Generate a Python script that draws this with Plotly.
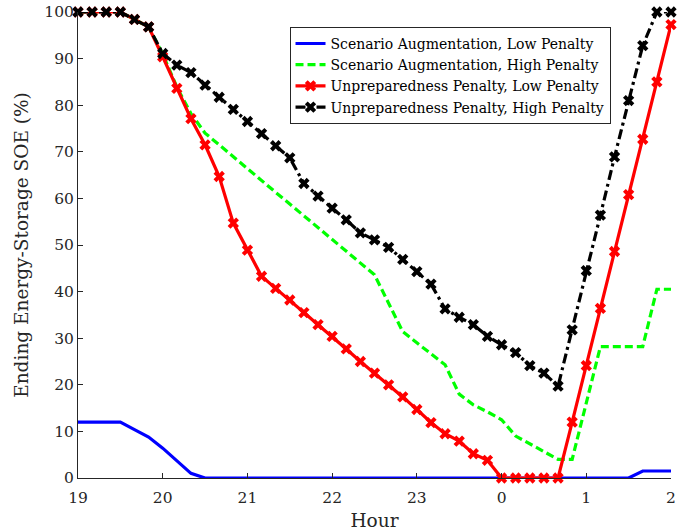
import plotly.graph_objects as go

# time axis: 10-minute steps from 19:00 to 02:00 (hours after 19:00)
steps = list(range(43))
hours = [s / 6 for s in steps]
tick_vals = [0, 1, 2, 3, 4, 5, 6, 7]
tick_text = ["19", "20", "21", "22", "23", "0", "1", "2"]
y_ticks = [0, 10, 20, 30, 40, 50, 60, 70, 80, 90, 100]

names = [
    "Scenario Augmentation, Low Penalty",
    "Scenario Augmentation, High Penalty",
    "Unpreparedness Penalty, Low Penalty",
    "Unpreparedness Penalty, High Penalty",
]

sa_low = [12, 12, 12, 12, 10.4, 8.8, 6.4, 3.7, 1.0, 0, 0, 0, 0, 0, 0, 0, 0, 0, 0, 0, 0, 0,
          0, 0, 0, 0, 0, 0, 0, 0, 0, 0, 0, 0, 0, 0, 0, 0, 0, 0, 1.5, 1.5, 1.5]
sa_high = [100, 100, 100, 100, 98.4, 96.8, 91.0, 83.9, 78.2, 74.0, 71.5, 68.9, 66.4, 63.9,
           61.3, 58.8, 56.3, 53.7, 51.2, 48.7, 46.1, 43.6, 37.5, 31.4, 29.0, 26.7, 24.3,
           18.0, 15.7, 14.2, 12.5, 9.0, 7.3, 5.6, 4.0, 4.0, 16.0, 28.2, 28.2, 28.2, 28.2,
           40.5, 40.5]
up_low = [100, 100, 100, 100, 98.4, 96.8, 90.4, 83.6, 77.1, 71.5, 64.7, 54.7, 48.9, 43.3,
          40.7, 38.2, 35.5, 32.9, 30.4, 27.7, 25.0, 22.5, 20.0, 17.4, 14.7, 11.9, 9.5, 7.9,
          5.2, 3.8, 0, 0, 0, 0, 0, 12.0, 24.1, 36.4, 48.6, 60.8, 72.7, 85.0, 97.3]
up_high = [100, 100, 100, 100, 98.4, 96.8, 91.1, 88.6, 87.0, 84.3, 81.7, 79.1, 76.5, 73.9,
           71.3, 68.7, 63.2, 60.5, 57.9, 55.4, 52.6, 51.1, 49.5, 46.9, 44.3, 41.6, 36.3,
           34.5, 32.9, 30.4, 28.6, 26.9, 24.1, 22.5, 19.7, 31.8, 44.5, 56.4, 68.9, 81.0,
           92.8, 100, 100]

FONT = "DejaVu Serif"
AX = "#262626"

fig = go.Figure()
fig.add_trace(go.Scatter(x=hours, y=sa_low, name=names[0], mode="lines",
                         line=dict(color="#0000ff", width=3.2), cliponaxis=False))
fig.add_trace(go.Scatter(x=hours, y=sa_high, name=names[1], mode="lines",
                         line=dict(color="#00ff00", width=3.2, dash="8px,4px"),
                         cliponaxis=False))
fig.add_trace(go.Scatter(x=hours, y=up_low, name=names[2], mode="lines+markers",
                         line=dict(color="#ff0000", width=3.2),
                         marker=dict(symbol="x", size=10, color="#ff0000"),
                         cliponaxis=False))
fig.add_trace(go.Scatter(x=hours, y=up_high, name=names[3], mode="lines+markers",
                         line=dict(color="#000000", width=3.2, dash="10px,4px,3px,4px"),
                         marker=dict(symbol="x", size=10, color="#000000"),
                         cliponaxis=False))

fig.update_layout(
    width=694, height=531,
    margin=dict(l=78, r=23, t=12, b=53),
    plot_bgcolor="white", paper_bgcolor="white",
    font=dict(family=FONT, size=14, color=AX),
    showlegend=True,
    legend=dict(x=0.898, y=0.968, xanchor="right", yanchor="top",
                bgcolor="white", bordercolor=AX, borderwidth=1,
                font=dict(family=FONT, size=14, color="#000000"),
                tracegroupgap=0, itemwidth=30),
    xaxis=dict(range=[0, 7], tickvals=tick_vals, ticktext=tick_text,
               automargin=False, ticklabelstandoff=5,
               showgrid=False, zeroline=False, showline=True, linecolor=AX,
               linewidth=1, ticks="inside", ticklen=5, tickcolor=AX,
               tickfont=dict(family=FONT, size=15.5, color=AX),
               title=dict(text="Hour", font=dict(family=FONT, size=18.5, color=AX),
                          standoff=8)),
    yaxis=dict(range=[0, 100], tickvals=y_ticks, automargin=False,
               showgrid=False, zeroline=False,
               showline=True, linecolor=AX, linewidth=1, ticks="inside", ticklen=5,
               tickcolor=AX, tickfont=dict(family=FONT, size=15.5, color=AX),
               title=dict(text="Ending Energy-Storage SOE (%)",
                          font=dict(family=FONT, size=18.5, color=AX), standoff=10)),
)

fig.write_html("out.html", config={"displayModeBar": False},
               post_script="document.body.style.margin='0px';")
